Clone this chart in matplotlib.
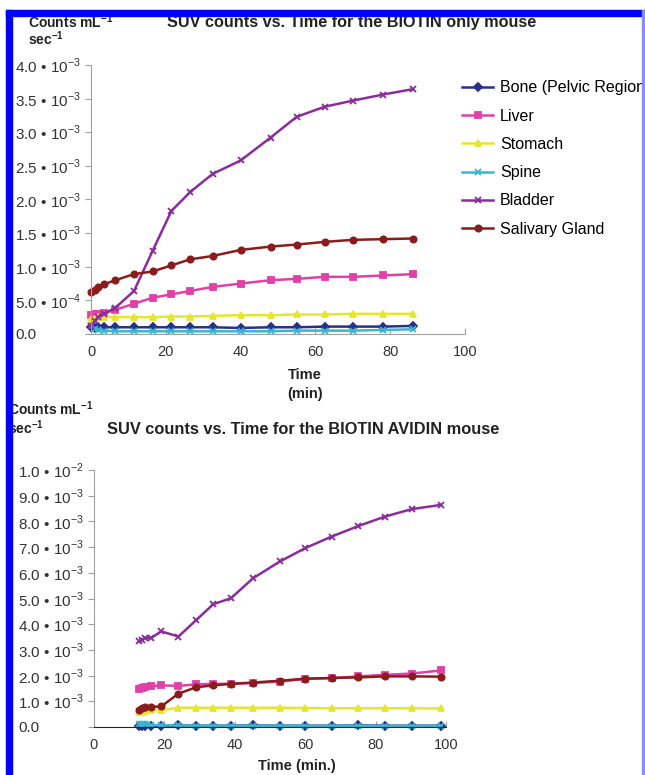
import matplotlib
matplotlib.use("Agg")
import matplotlib.pyplot as plt
from matplotlib.patches import Rectangle

plt.rcParams["font.family"] = ["Liberation Sans", "DejaVu Sans"]
plt.rcParams["mathtext.fontset"] = "custom"
plt.rcParams["mathtext.rm"] = "Liberation Sans"
plt.rcParams["mathtext.bf"] = "Liberation Sans:bold"

# ---------- data (values in units of 1e-3 counts mL^-1 sec^-1) ----------
organs = ["Bone (Pelvic Region)", "Liver", "Stomach", "Spine", "Bladder", "Salivary Gland"]
colors = ["#28308c", "#e040a8", "#e6e62e", "#38b8d0", "#8a2c9c", "#8c1c1c"]
markers = ["D", "s", "^", "x", "x", "o"]

time_biotin = [0, 1, 2, 3.5, 6.5, 11.5, 16.5, 21.5, 26.5, 32.5, 40, 48, 55, 62.5, 70, 78, 86]
bone_biotin = [0.10, 0.09, 0.10, 0.10, 0.10, 0.10, 0.10, 0.10, 0.10, 0.10, 0.09, 0.10, 0.10, 0.11, 0.11, 0.11, 0.12]
liver_biotin = [0.28, 0.29, 0.30, 0.31, 0.36, 0.45, 0.54, 0.59, 0.64, 0.70, 0.75, 0.80, 0.82, 0.85, 0.85, 0.87, 0.89]
stomach_biotin = [0.22, 0.24, 0.25, 0.26, 0.25, 0.25, 0.25, 0.26, 0.26, 0.27, 0.28, 0.28, 0.29, 0.29, 0.30, 0.30, 0.30]
spine_biotin = [0.12, 0.08, 0.06, 0.05, 0.04, 0.04, 0.04, 0.04, 0.04, 0.04, 0.04, 0.04, 0.05, 0.05, 0.05, 0.06, 0.07]
bladder_biotin = [0.12, 0.19, 0.25, 0.30, 0.39, 0.64, 1.24, 1.83, 2.11, 2.38, 2.58, 2.92, 3.23, 3.38, 3.47, 3.56, 3.64]
saliv_biotin = [0.62, 0.66, 0.70, 0.74, 0.80, 0.89, 0.93, 1.02, 1.11, 1.16, 1.25, 1.30, 1.33, 1.37, 1.40, 1.41, 1.42]

time_avidin = [12.8, 13.5, 14.5, 16.3, 19.1, 24.0, 29.1, 33.9, 38.9, 45.2, 52.8, 60, 67.5, 75.1, 82.7, 90.3, 98.5]
bone_avidin = [0.05, 0.05, 0.05, 0.05, 0.04, 0.06, 0.05, 0.05, 0.05, 0.06, 0.05, 0.05, 0.05, 0.06, 0.05, 0.05, 0.05]
liver_avidin = [1.48, 1.52, 1.55, 1.58, 1.62, 1.60, 1.66, 1.68, 1.68, 1.71, 1.77, 1.87, 1.90, 1.97, 2.03, 2.08, 2.20]
stomach_avidin = [0.58, 0.60, 0.63, 0.65, 0.65, 0.75, 0.75, 0.75, 0.75, 0.75, 0.75, 0.74, 0.73, 0.73, 0.73, 0.73, 0.72]
spine_avidin = [0.12, 0.12, 0.10, 0.08, 0.06, 0.06, 0.05, 0.05, 0.05, 0.05, 0.05, 0.05, 0.04, 0.05, 0.04, 0.04, 0.04]
bladder_avidin = [3.33, 3.38, 3.46, 3.47, 3.72, 3.52, 4.17, 4.78, 5.01, 5.79, 6.44, 6.96, 7.41, 7.82, 8.19, 8.48, 8.64]
saliv_avidin = [0.68, 0.72, 0.76, 0.78, 0.80, 1.30, 1.55, 1.62, 1.68, 1.73, 1.80, 1.88, 1.91, 1.93, 1.97, 1.97, 1.96]

yt_biotin = [0, 0.5, 1.0, 1.5, 2.0, 2.5, 3.0, 3.5, 4.0]
yl_biotin = ["0.0", "5.0 • 10$^{-4}$"] + [f"{v:.1f} • 10$^{{-3}}$" for v in yt_biotin[2:]]
yt_avidin = list(range(0, 11))
yl_avidin = ["0.0"] + [f"{v:.1f} • 10$^{{-3}}$" for v in yt_avidin[1:10]] + ["1.0 • 10$^{-2}$"]

W, H = 645, 775
fig = plt.figure(figsize=(W / 100, H / 100), dpi=100)

def px_axes(l, r, b, t):
    return fig.add_axes([l / W, 1 - b / H, (r - l) / W, (b - t) / H])

def style(ax, yt, yl, ymax, xcol, pad):
    ax.set_xlim(0, 100); ax.set_ylim(0, ymax)
    ax.set_xticks([0, 20, 40, 60, 80, 100]); ax.set_yticks(yt)
    ax.set_yticklabels(yl)
    for s in ("top", "right"): ax.spines[s].set_visible(False)
    ax.spines["left"].set_color("#a0a0a0"); ax.spines["bottom"].set_color(xcol)
    ax.tick_params(axis="y", direction="out", length=4, color="#a0a0a0", pad=pad, labelsize=11, labelcolor="#333")
    ax.tick_params(axis="x", direction="in", length=4, color="#a0a0a0", pad=8, labelsize=10.5, labelcolor="#333")
    for lab in ax.get_yticklabels(): lab.set_ha("left")

series_biotin = [bone_biotin, liver_biotin, stomach_biotin, spine_biotin, bladder_biotin, saliv_biotin]
series_avidin = [bone_avidin, liver_avidin, stomach_avidin, spine_avidin, bladder_avidin, saliv_avidin]

ax1 = px_axes(91, 465, 334, 65)
for name, ys, c, m in zip(organs, series_biotin, colors, markers):
    ax1.plot(time_biotin, ys, color=c, marker=m, ms=4.5, mew=1.3, lw=1.8, label=name, clip_on=False)
style(ax1, yt_biotin, yl_biotin, 4.0, "#a0a0a0", 50.5)

ax2 = px_axes(94, 446, 727, 470)
for name, ys, c, m in zip(organs, series_avidin, colors, markers):
    ax2.plot(time_avidin, ys, color=c, marker=m, ms=4.5, mew=1.3, lw=1.8, clip_on=False)
style(ax2, yt_avidin, yl_avidin, 10.0, "#222222", 50.5)

fig.legend(*ax1.get_legend_handles_labels(), loc="upper left", bbox_to_anchor=(448 / W, 1 - 66 / H),
           frameon=False, fontsize=11.5, handlelength=1.9, handletextpad=0.45, labelspacing=0.83)

# ---------- titles / labels ----------
bold = dict(fontweight="bold", color="#222", va="center")
fig.text(28 / W, 1 - 22 / H, r"Counts mL$^{\mathbf{-1}}$", fontsize=10, **bold)
fig.text(28 / W, 1 - 39 / H, r"sec$^{\mathbf{-1}}$", fontsize=10, **bold)
fig.text(167 / W, 1 - 22 / H, "SUV counts vs. Time for the BIOTIN only mouse", fontsize=11.7, **bold)
fig.text(305 / W, 1 - 375 / H, "Time", fontsize=10.5, ha="center", **bold)
fig.text(305 / W, 1 - 394 / H, "(min)", fontsize=10.5, ha="center", **bold)

fig.text(8 / W, 1 - 409 / H, r"Counts mL$^{\mathbf{-1}}$", fontsize=10, **bold)
fig.text(8 / W, 1 - 428 / H, r"sec$^{\mathbf{-1}}$", fontsize=10, **bold)
fig.text(107 / W, 1 - 430 / H, "SUV counts vs. Time for the BIOTIN AVIDIN mouse", fontsize=11.8, **bold)
fig.text(297 / W, 1 - 766 / H, "Time (min.)", fontsize=10.5, ha="center", **bold)

# ---------- blue frame ----------
fig.add_artist(Rectangle((6 / W, 0), 6 / W, 1 - 10 / H, transform=fig.transFigure, color="#0000ff", zorder=10))
fig.add_artist(Rectangle((6 / W, 1 - 16 / H), 1, 6 / H, transform=fig.transFigure, color="#0000ff", zorder=10))
fig.add_artist(Rectangle((642 / W, 0), 2 / W, 1 - 10 / H, transform=fig.transFigure, color="#8a8aff", zorder=10))

fig.savefig("out.png", dpi=100)
